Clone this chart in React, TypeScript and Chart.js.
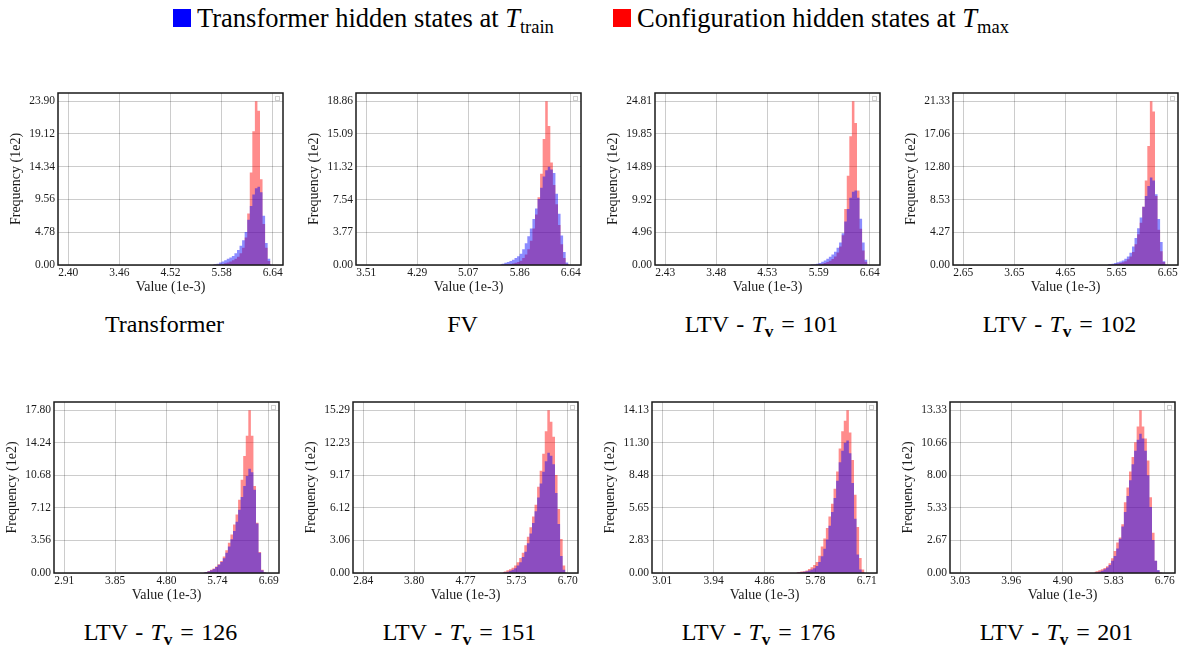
import React, { useEffect, useRef } from "react";
import { Chart, registerables } from "chart.js";
Chart.register(...registerables);

// ---------------- data ----------------
const seriesLabels = ["Transformer hidden states at T_train", "Configuration hidden states at T_max"];
const binsPerPanel = 80; // histogram bins spanning first..last x tick; arrays hold the right-hand tail bins

const p1XTicks = [2.40, 3.46, 4.52, 5.58, 6.64];
const p1YTicks = [0.00, 4.78, 9.56, 14.34, 19.12, 23.90];
const p1Blue = [0.05, 0.1, 0.2, 0.35, 0.5, 0.7, 0.9, 1.1, 1.3, 1.7, 2.2, 2.8, 3.6, 4.8, 6.6, 8.6, 10.3, 11.2, 11.4, 10.6, 7.2, 3.2, 0.9, 0.1];
const p1Red = [0.02, 0.03, 0.05, 0.1, 0.15, 0.25, 0.35, 0.5, 0.7, 0.9, 1.2, 1.7, 2.5, 4.0, 7.5, 13.5, 19.5, 23.9, 22.5, 12.5, 6.0, 2.5, 0.6, 0.05];

const p2XTicks = [3.51, 4.29, 5.07, 5.86, 6.64];
const p2YTicks = [0.00, 3.77, 7.54, 11.32, 15.09, 18.86];
const p2Blue = [0.1, 0.15, 0.25, 0.35, 0.45, 0.6, 0.8, 1.0, 1.3, 1.8, 2.5, 3.3, 4.2, 5.3, 6.5, 7.6, 8.9, 10.2, 10.9, 11.3, 11.0, 10.6, 8.2, 5.9, 3.4, 1.5, 0.3, 0.05];
const p2Red = [0.02, 0.03, 0.05, 0.08, 0.12, 0.18, 0.25, 0.35, 0.5, 0.8, 1.2, 1.8, 2.8, 4.2, 5.8, 7.8, 10.5, 14.5, 18.86, 16.0, 11.8, 9.2, 7.0, 4.6, 2.4, 0.8, 0.15, 0.02];

const p3XTicks = [2.43, 3.48, 4.53, 5.59, 6.64];
const p3YTicks = [0.00, 4.96, 9.92, 14.89, 19.85, 24.81];
const p3Blue = [0.03, 0.06, 0.1, 0.18, 0.3, 0.5, 0.7, 0.95, 1.25, 1.6, 2.0, 2.6, 3.4, 4.8, 6.6, 8.5, 10.2, 11.1, 11.3, 10.2, 7.0, 3.4, 0.8, 0.08];
const p3Red = [0.01, 0.02, 0.04, 0.07, 0.12, 0.2, 0.3, 0.45, 0.65, 0.9, 1.3, 1.9, 2.8, 4.5, 8.5, 13.5, 19.5, 24.81, 21.5, 11.3, 5.5, 2.2, 0.5, 0.05];

const p4XTicks = [2.65, 3.65, 4.65, 5.65, 6.65];
const p4YTicks = [0.00, 4.27, 8.53, 12.80, 17.06, 21.33];
const p4Blue = [0.05, 0.1, 0.15, 0.25, 0.35, 0.45, 0.6, 0.8, 1.1, 1.6, 2.4, 3.5, 4.8, 6.2, 7.6, 9.0, 10.3, 11.4, 11.0, 9.2, 6.0, 3.0, 0.5, 0.05];
const p4Red = [0.03, 0.05, 0.08, 0.12, 0.18, 0.25, 0.35, 0.5, 0.75, 1.1, 1.7, 2.7, 4.0, 5.5, 7.6, 11.0, 15.5, 21.33, 20.0, 9.0, 4.6, 1.8, 0.4, 0.04];

const p5XTicks = [2.91, 3.85, 4.80, 5.74, 6.69];
const p5YTicks = [0.00, 3.56, 7.12, 10.68, 14.24, 17.80];
const p5Blue = [0.05, 0.1, 0.18, 0.3, 0.45, 0.65, 0.9, 1.2, 1.6, 2.2, 2.9, 3.7, 4.6, 5.6, 6.9, 8.3, 9.5, 10.6, 11.4, 11.0, 9.1, 5.4, 2.2, 0.3, 0.05, 0.01];
const p5Red = [0.06, 0.12, 0.22, 0.35, 0.5, 0.7, 0.95, 1.3, 1.8, 2.5, 3.3, 4.2, 5.3, 6.4, 8.0, 10.2, 12.8, 15.0, 17.8, 15.0, 9.5, 5.5, 2.3, 0.35, 0.05, 0.01];

const p6XTicks = [2.84, 3.80, 4.77, 5.73, 6.70];
const p6YTicks = [0.00, 3.06, 6.12, 9.17, 12.23, 15.29];
const p6Blue = [0.03, 0.06, 0.12, 0.2, 0.3, 0.45, 0.7, 1.0, 1.5, 2.0, 2.8, 3.7, 4.7, 5.8, 7.1, 8.4, 9.5, 10.5, 11.3, 11.0, 10.2, 7.5, 4.6, 1.6, 0.3, 0.02];
const p6Red = [0.08, 0.15, 0.25, 0.35, 0.5, 0.7, 1.0, 1.4, 1.9, 2.6, 3.4, 4.3, 5.3, 6.4, 8.1, 9.6, 11.2, 13.3, 15.29, 14.2, 12.8, 9.2, 6.0, 3.2, 0.7, 0.05];

const p7XTicks = [3.01, 3.94, 4.86, 5.78, 6.71];
const p7YTicks = [0.00, 2.83, 5.65, 8.48, 11.30, 14.13];
const p7Blue = [0.02, 0.04, 0.07, 0.1, 0.15, 0.22, 0.3, 0.42, 0.6, 0.95, 1.45, 2.1, 2.9, 4.1, 5.3, 6.5, 8.0, 9.6, 10.6, 11.3, 11.5, 10.4, 7.8, 4.7, 1.6, 0.3, 0.05, 0.01];
const p7Red = [0.06, 0.09, 0.12, 0.15, 0.22, 0.35, 0.5, 0.7, 0.95, 1.5, 2.3, 3.0, 3.9, 4.9, 6.0, 7.3, 8.8, 10.8, 12.3, 13.2, 14.13, 12.2, 9.8, 6.8, 4.0, 1.3, 0.3, 0.03];

const p8XTicks = [3.03, 3.96, 4.90, 5.83, 6.76];
const p8YTicks = [0.00, 2.67, 5.33, 8.00, 10.66, 13.33];
const p8Blue = [0.02, 0.05, 0.1, 0.18, 0.3, 0.45, 0.65, 1.0, 1.4, 2.0, 2.8, 3.8, 5.0, 6.3, 7.6, 8.9, 10.0, 10.9, 11.4, 11.0, 10.0, 8.0, 5.4, 2.7, 1.0, 0.25, 0.03, 0.0];
const p8Red = [0.1, 0.15, 0.22, 0.3, 0.4, 0.55, 0.8, 1.2, 1.8, 2.5, 2.9, 4.0, 5.8, 7.0, 8.3, 9.5, 10.7, 12.0, 13.33, 12.0, 11.0, 9.2, 6.2, 3.3, 1.0, 0.2, 0.05, 0.01];

const ltvValues = [101, 102, 126, 151, 176, 201];

const panels = [
  { xTicks: p1XTicks, yTicks: p1YTicks, blue: p1Blue, red: p1Red },
  { xTicks: p2XTicks, yTicks: p2YTicks, blue: p2Blue, red: p2Red },
  { xTicks: p3XTicks, yTicks: p3YTicks, blue: p3Blue, red: p3Red },
  { xTicks: p4XTicks, yTicks: p4YTicks, blue: p4Blue, red: p4Red },
  { xTicks: p5XTicks, yTicks: p5YTicks, blue: p5Blue, red: p5Red },
  { xTicks: p6XTicks, yTicks: p6YTicks, blue: p6Blue, red: p6Red },
  { xTicks: p7XTicks, yTicks: p7YTicks, blue: p7Blue, red: p7Red },
  { xTicks: p8XTicks, yTicks: p8YTicks, blue: p8Blue, red: p8Red },
];

// ---------------- layout / style ----------------
const FONT = "'Liberation Serif', 'Times New Roman', Times, serif";
Chart.defaults.font.family = FONT;
Chart.defaults.font.size = 11;
Chart.defaults.color = "#1a1a1a";

const BLUE = "rgba(0, 0, 255, 0.45)";
const RED = "rgba(255, 0, 0, 0.45)";
const PLOT_LEFT = [58, 356, 655, 953, 54, 353, 652, 950];
const PLOT_TOP = [93, 93, 93, 93, 402, 402, 402, 402];
const PLOT_H = [172, 172, 172, 172, 171, 171, 171, 171];
const PLOT_W = 225;
const AX_W = 52;
const AX_H = 34;
const PAD_T = 8;
const PAD_R = 6;

function histPoints(counts: number[], xTicks: number[]) {
  const lo = xTicks[0];
  const hi = xTicks[xTicks.length - 1];
  const w = (hi - lo) / binsPerPanel;
  const start = binsPerPanel - counts.length;
  return counts.map((c, i) => ({ x: lo + (start + i + 0.5) * w, y: c }));
}

const framePlugin = {
  id: "frame",
  afterDraw(chart: any) {
    const { ctx, chartArea: a } = chart;
    ctx.save();
    ctx.strokeStyle = "#cfcfcf";
    ctx.lineWidth = 1;
    ctx.strokeRect(a.right - 7.5, a.top + 3.5, 4, 4);
    ctx.strokeStyle = "#1a1a1a";
    ctx.lineWidth = 1.5;
    ctx.strokeRect(a.left, a.top, a.right - a.left, a.bottom - a.top);
    ctx.restore();
  },
};

function zeroPad(s: any) {
  s.paddingTop = 0;
  s.paddingBottom = 0;
  s.paddingLeft = 0;
  s.paddingRight = 0;
}

function Panel({ idx }: { idx: number }) {
  const ref = useRef<HTMLCanvasElement>(null);
  const p = panels[idx];
  const W = AX_W + PLOT_W + PAD_R;
  const H = PAD_T + PLOT_H[idx] + AX_H;
  useEffect(() => {
    const xr = p.xTicks[p.xTicks.length - 1] - p.xTicks[0];
    const yMax = p.yTicks[p.yTicks.length - 1];
    const tickFont = { family: FONT, size: 11.5 };
    const titleFont = { family: FONT, size: 14 };
    const ds = (label: string, data: any, color: string) => ({
      label,
      data,
      backgroundColor: color,
      borderColor: "rgba(0,0,0,0)",
      borderWidth: 0,
      fill: "origin",
      stepped: "middle",
      pointRadius: 0,
      pointHoverRadius: 0,
    });
    const chart = new Chart(ref.current as HTMLCanvasElement, {
      type: "line",
      data: {
        datasets: [
          ds(seriesLabels[0], histPoints(p.blue, p.xTicks), BLUE),
          ds(seriesLabels[1], histPoints(p.red, p.xTicks), RED),
        ] as any,
      },
      options: {
        animation: false,
        responsive: false,
        maintainAspectRatio: false,
        events: [],
        layout: { padding: { left: 0, top: PAD_T, right: PAD_R, bottom: 0 } },
        plugins: { legend: { display: false }, tooltip: { enabled: false } },
        scales: {
          x: {
            type: "linear",
            min: p.xTicks[0] - 0.05 * xr,
            max: p.xTicks[p.xTicks.length - 1] + 0.05 * xr,
            afterBuildTicks: (s: any) => {
              s.ticks = p.xTicks.map((v) => ({ value: v }));
            },
            afterFit: (s: any) => {
              s.height = AX_H;
              zeroPad(s);
            },
            ticks: {
              autoSkip: false,
              maxRotation: 0,
              padding: 1,
              color: "#1a1a1a",
              font: tickFont,
              callback: (v: any) => Number(v).toFixed(2),
            },
            grid: { color: "rgba(0,0,0,0.2)", lineWidth: 1, drawTicks: false },
            border: { display: false },
            title: { display: true, text: "Value (1e-3)", color: "#1a1a1a", font: titleFont, padding: { top: 0, bottom: 3 } },
          },
          y: {
            type: "linear",
            min: 0,
            max: yMax * 1.05,
            afterBuildTicks: (s: any) => {
              s.ticks = p.yTicks.map((v) => ({ value: v }));
            },
            afterFit: (s: any) => {
              s.width = AX_W;
              zeroPad(s);
            },
            ticks: {
              autoSkip: false,
              padding: 3,
              color: "#1a1a1a",
              font: tickFont,
              callback: (v: any) => Number(v).toFixed(2),
            },
            grid: { color: "rgba(0,0,0,0.2)", lineWidth: 1, drawTicks: false },
            border: { display: false },
            title: { display: true, text: "Frequency (1e2)", color: "#1a1a1a", font: titleFont, padding: { top: 2, bottom: 0 } },
          },
        },
      } as any,
      plugins: [framePlugin],
    });
    return () => chart.destroy();
  }, []);
  return (
    <div style={{ position: "absolute", left: PLOT_LEFT[idx] - AX_W, top: PLOT_TOP[idx] - PAD_T, width: W, height: H }}>
      <canvas ref={ref} width={W} height={H} style={{ width: W, height: H, display: "block" }} />
    </div>
  );
}

function PanelTitle({ idx }: { idx: number }) {
  const cx = PLOT_LEFT[idx] + PLOT_W / 2 - 6;
  const top = idx < 4 ? 311 : 619;
  let content: any;
  if (idx === 0) content = "Transformer";
  else if (idx === 1) content = "FV";
  else
    content = (
      <>
        LTV<span style={{ margin: "0 0.3em" }}>-</span>
        <i>T</i>
        <sub style={{ fontSize: "0.72em", lineHeight: 0, verticalAlign: "-0.3em" }}>
          <b>v</b>
        </sub>
        <span style={{ margin: "0 0.32em" }}>=</span>
        {ltvValues[idx - 2]}
      </>
    );
  return (
    <div
      style={{
        position: "absolute",
        left: cx - 150,
        width: 300,
        top,
        height: 26,
        lineHeight: "26px",
        textAlign: "center",
        fontFamily: FONT,
        fontSize: 24,
        color: "#000",
        whiteSpace: "nowrap",
      }}
    >
      {content}
    </div>
  );
}

const subStyle: any = { fontSize: "0.7em", lineHeight: 0, verticalAlign: "-0.3em" };

export default function App() {
  return (
    <div style={{ position: "absolute", left: 0, top: 0, width: 1183, height: 649, overflow: "hidden", background: "#fff" }}>
      <div style={{ position: "absolute", left: 173, top: 9, width: 18, height: 18, background: "#0000ff" }} />
      <div style={{ position: "absolute", left: 197, top: 3, fontFamily: FONT, fontSize: 26.5, lineHeight: "30px", whiteSpace: "nowrap", color: "#000" }}>
        Transformer hidden states at <i>T</i>
        <sub style={subStyle}>train</sub>
      </div>
      <div style={{ position: "absolute", left: 613, top: 9, width: 18, height: 18, background: "#ff0000" }} />
      <div style={{ position: "absolute", left: 637, top: 3, fontFamily: FONT, fontSize: 26.5, lineHeight: "30px", whiteSpace: "nowrap", color: "#000" }}>
        Configuration hidden states at <i>T</i>
        <sub style={subStyle}>max</sub>
      </div>
      {panels.map((_, i) => (
        <Panel key={"p" + i} idx={i} />
      ))}
      {panels.map((_, i) => (
        <PanelTitle key={"t" + i} idx={i} />
      ))}
    </div>
  );
}
